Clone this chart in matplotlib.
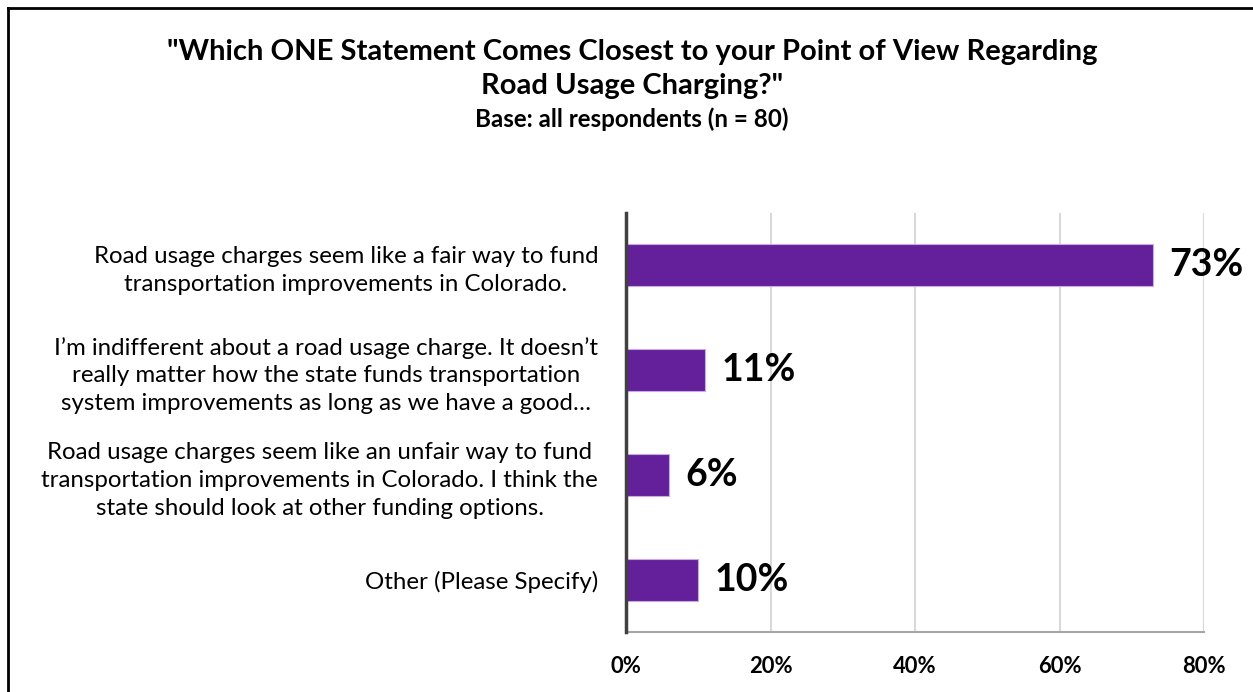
import matplotlib
matplotlib.use("Agg")
import matplotlib.pyplot as plt
from matplotlib.lines import Line2D

plt.rcParams['font.family'] = ['Lato', 'DejaVu Sans']

categories = [
    "Road usage charges seem like a fair way to fund\ntransportation improvements in Colorado.",
    "I\u2019m indifferent about a road usage charge. It doesn\u2019t\nreally matter how the state funds transportation\nsystem improvements as long as we have a good\u2026",
    "Road usage charges seem like an unfair way to fund\ntransportation improvements in Colorado. I think the\nstate should look at other funding options.",
    "Other (Please Specify)",
]
values = [73, 11, 6, 10]
value_labels = ["73%", "11%", "6%", "10%"]
xticks = [0, 20, 40, 60, 80]
xtick_labels = ["0%", "20%", "40%", "60%", "80%"]

title_lines = ["\"Which ONE Statement Comes Closest to your Point of View Regarding",
               "Road Usage Charging?\""]
subtitle = "Base: all respondents (n = 80)"

W, H = 1253, 692
fig = plt.figure(figsize=(W / 100, H / 100), dpi=100)
ax = fig.add_axes([626 / W, 1 - 632 / H, (1204 - 626) / W, (632 - 213) / H])

ypos = list(range(len(categories)))
ax.barh(ypos, values, height=0.4, color="#63209A", edgecolor="#C9A9E6", linewidth=0.8, zorder=3)
ax.set_ylim(len(categories) - 0.5, -0.5)
ax.set_xlim(0, 80)
ax.set_yticks(ypos)
ax.set_yticklabels(categories, fontsize=17.3, multialignment="center", linespacing=1.4)
ax.set_xticks(xticks)
ax.set_xticklabels(xtick_labels, fontsize=15.8, fontweight="bold")
ax.tick_params(axis="y", length=0, pad=20)
ax.tick_params(axis="x", length=0, pad=17)
ax.grid(axis="x", color="#D9D9D9", linewidth=1.5, zorder=0)
for s in ["top", "right"]:
    ax.spines[s].set_visible(False)
ax.spines["left"].set_color("#404040")
ax.spines["left"].set_linewidth(2.5)
ax.spines["left"].set_zorder(4)
ax.spines["bottom"].set_color("#A6A6A6")
ax.spines["bottom"].set_linewidth(1.5)

for y, v, lab in zip(ypos, values, value_labels):
    ax.text(v + 2.2, y, lab, va="center", ha="left", fontsize=27, fontweight="bold", zorder=5)

fig.text(632 / W, 1 - 52 / H, title_lines[0], ha="center", va="center", fontsize=21, fontweight="bold")
fig.text(632 / W, 1 - 86 / H, title_lines[1], ha="center", va="center", fontsize=21, fontweight="bold")
fig.text(632 / W, 1 - 119 / H, subtitle, ha="center", va="center", fontsize=17.4, fontweight="bold")

fig.add_artist(Line2D([7.5 / W, 7.5 / W], [0, 1 - 8 / H], transform=fig.transFigure, color="black", linewidth=2))
fig.add_artist(Line2D([7.5 / W, 1], [1 - 8 / H, 1 - 8 / H], transform=fig.transFigure, color="black", linewidth=2))

fig.savefig("out.png", dpi=100)
